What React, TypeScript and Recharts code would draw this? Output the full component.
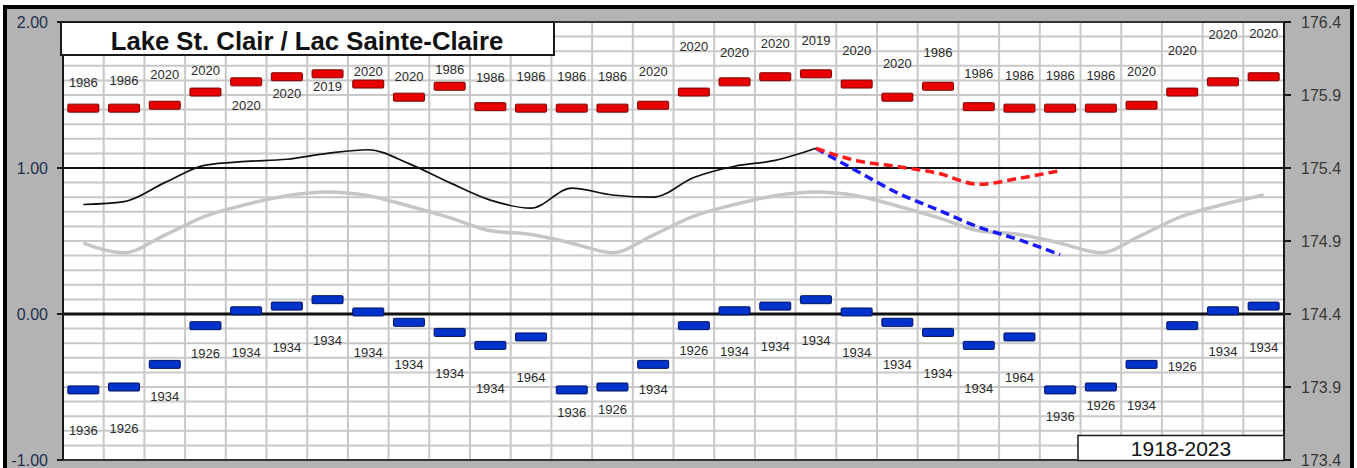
import { CartesianGrid, ComposedChart, Line, ReferenceLine, XAxis, YAxis } from "recharts";

// record monthly highs / lows (m, relative to chart datum 174.4 m)
const recordHigh = [
  1.41, 1.41, 1.43, 1.52, 1.59, 1.625, 1.645, 1.575, 1.485, 1.56, 1.42, 1.41,
  1.41, 1.41, 1.43, 1.52, 1.59, 1.625, 1.645, 1.575, 1.485, 1.56, 1.42, 1.41,
  1.41, 1.41, 1.43, 1.52, 1.59, 1.625,
];
const recordHighYear = [
  1986, 1986, 2020, 2020, 2020, 2020, 2019, 2020, 2020, 1986, 1986, 1986,
  1986, 1986, 2020, 2020, 2020, 2020, 2019, 2020, 2020, 1986, 1986, 1986,
  1986, 1986, 2020, 2020, 2020, 2020,
];
const recordLow = [
  -0.52, -0.5, -0.345, -0.08, 0.022, 0.054, 0.098, 0.014, -0.057, -0.126, -0.215, -0.157,
  -0.52, -0.5, -0.345, -0.08, 0.022, 0.054, 0.098, 0.014, -0.057, -0.126, -0.215, -0.157,
  -0.52, -0.5, -0.345, -0.08, 0.022, 0.054,
];
const recordLowYear = [
  1936, 1926, 1934, 1926, 1934, 1934, 1934, 1934, 1934, 1934, 1934, 1964,
  1936, 1926, 1934, 1926, 1934, 1934, 1934, 1934, 1934, 1934, 1934, 1964,
  1936, 1926, 1934, 1926, 1934, 1934,
];
const recorded = [
  0.75, 0.77, 0.9, 1.02, 1.045, 1.06, 1.1, 1.125, 1.03, 0.9, 0.78, 0.725,
  0.862, 0.815, 0.8, 0.935, 1.012, 1.052, 1.135,
];
const average = [
  0.485, 0.42, 0.54, 0.67, 0.75, 0.81, 0.835, 0.81, 0.74, 0.66, 0.57, 0.545,
  0.485, 0.42, 0.54, 0.67, 0.75, 0.81, 0.835, 0.81, 0.74, 0.66, 0.57, 0.545,
  0.485, 0.42, 0.54, 0.67, 0.75, 0.815,
];
const forecastStart = 18;
const forecastHigh = [1.135, 1.05, 1.01, 0.964, 0.888, 0.93, 0.982];
const forecastLow = [1.135, 0.98, 0.83, 0.713, 0.595, 0.508, 0.406];

const chartDatum = 174.4;
const leftLabels = [-1, 0, 1, 2];
const rightTicks = [173.4, 173.9, 174.4, 174.9, 175.4, 175.9, 176.4];
const gridTicks = [
  -1, -0.9, -0.8, -0.7, -0.6, -0.5, -0.4, -0.3, -0.2, -0.1, 0,
  0.1, 0.2, 0.3, 0.4, 0.5, 0.6, 0.7, 0.8, 0.9, 1,
  1.1, 1.2, 1.3, 1.4, 1.5, 1.6, 1.7, 1.8, 1.9, 2,
];

// label placement (px from marker centre)
const highLabelDy = [
  -26, -28, -31, -22, 24, 17, 13, -13, -21, -17, -29, -32,
  -32, -32, -34, -46, -29, -33, -33, -34, -34, -34, -33, -33,
  -33, -33, -34, -42, -47, -43,
];
const lowLabelDy = [
  41, 41, 32, 28, 42, 41, 41, 40, 42, 41, 43, 41,
  23, 22, 25, 25, 41, 40, 41, 40, 42, 41, 43, 41,
  27, 18, 41, 41, 41, 41,
];

const FONT = "'Liberation Sans', Arial, sans-serif";

const rows = recordHigh.map((high, i) => ({
  slot: i + 0.5,
  high,
  highYear: recordHighYear[i],
  low: recordLow[i],
  lowYear: recordLowYear[i],
  recorded: recorded[i] ?? null,
  average: average[i],
  fHigh: i >= forecastStart ? forecastHigh[i - forecastStart] ?? null : null,
  fLow: i >= forecastStart ? forecastLow[i - forecastStart] ?? null : null,
}));
const slotTicks = rows.map((_, i) => i).concat(rows.length);

function LeftTick({ x, y, payload }: any) {
  const v = payload.value;
  if (!leftLabels.some((l) => Math.abs(l - v) < 1e-6)) return <g />;
  return (
    <g>
      <line x1={x + 9} x2={x + 15} y1={y} y2={y} stroke="#1a1a1a" strokeWidth={2} />
      <text x={x} y={y} dy="0.35em" textAnchor="end" fontSize={16} fontFamily={FONT} fill="#22304d">
        {v.toFixed(2)}
      </text>
    </g>
  );
}

function marker(fill: string, stroke: string, yearKey: "highYear" | "lowYear", dys: number[]) {
  return (props: any) => {
    const { cx, cy, index, payload } = props;
    if (cx == null || cy == null) return <g key={`${yearKey}-${index}`} />;
    return (
      <g key={`${yearKey}-${index}`}>
        <rect x={cx - 15.5} y={cy - 4} width={31} height={8} rx={1} fill={fill} stroke={stroke} strokeWidth={1} />
        <text
          x={cx}
          y={cy + dys[index]}
          dy="0.35em"
          textAnchor="middle"
          fontSize={13}
          fontFamily={FONT}
          fill="#2a2a2a"
        >
          {payload[yearKey]}
        </text>
      </g>
    );
  };
}

export default function App() {
  return (
    <div style={{ position: "absolute", left: 0, top: 0, width: 1357, height: 468, background: "#fff", overflow: "hidden" }}>
      <div
        style={{
          position: "absolute",
          left: 3,
          top: 5,
          width: 1351,
          height: 490,
          boxSizing: "border-box",
          border: "4px solid #000",
          background: "#b3b3b3",
        }}
      />
      <div style={{ position: "absolute", left: 0, top: 0 }}>
        <ComposedChart width={1357} height={468} data={rows} margin={{ top: 22, right: 0, bottom: 8, left: 0 }}>
          <CartesianGrid yAxisId="left" stroke="#c8c8c8" strokeWidth={2} fill="#fff" fillOpacity={1} />
          <XAxis dataKey="slot" type="number" domain={[0, rows.length]} ticks={slotTicks} hide />
          <YAxis
            yAxisId="left"
            type="number"
            domain={[-1, 2]}
            ticks={gridTicks}
            width={63}
            tick={<LeftTick />}
            axisLine={{ stroke: "#1a1a1a", strokeWidth: 2 }}
            tickLine={false}
            tickSize={0}
            tickMargin={15}
            interval={0}
          />
          <YAxis
            yAxisId="right"
            orientation="right"
            type="number"
            domain={[173.4, 176.4]}
            ticks={rightTicks}
            width={73}
            tickFormatter={(v: number) => v.toFixed(1)}
            tick={{ fill: "#383838", fontSize: 16, fontFamily: FONT }}
            axisLine={{ stroke: "#1a1a1a", strokeWidth: 2 }}
            tickLine={{ stroke: "#1a1a1a", strokeWidth: 2 }}
            tickSize={7}
            tickMargin={10}
            interval={0}
          />
          <ReferenceLine yAxisId="left" y={2} stroke="#333" strokeWidth={2} />
          <ReferenceLine yAxisId="left" y={-1} stroke="#333" strokeWidth={2} />
          <ReferenceLine yAxisId="left" y={1} stroke="#111" strokeWidth={2} />
          <ReferenceLine yAxisId="left" y={0} stroke="#111" strokeWidth={3} />
          {/* long-term average, also in metres above sea level on the right axis (invisible) */}
          <Line
            yAxisId="right"
            dataKey={(r: any) => r.average + chartDatum}
            stroke="none"
            dot={false}
            activeDot={false}
            isAnimationActive={false}
          />
          <Line
            yAxisId="left"
            dataKey="average"
            type="monotone"
            stroke="#c6c6c6"
            strokeWidth={3.5}
            dot={false}
            activeDot={false}
            isAnimationActive={false}
          />
          <Line
            yAxisId="left"
            dataKey="recorded"
            type="monotone"
            stroke="#111"
            strokeWidth={1.7}
            dot={false}
            activeDot={false}
            isAnimationActive={false}
          />
          <Line
            yAxisId="left"
            dataKey="fLow"
            type="monotone"
            stroke="#1a1aff"
            strokeWidth={3.5}
            strokeDasharray="9 5"
            dot={false}
            activeDot={false}
            isAnimationActive={false}
          />
          <Line
            yAxisId="left"
            dataKey="fHigh"
            type="monotone"
            stroke="#ff1a1a"
            strokeWidth={3.5}
            strokeDasharray="9 5"
            dot={false}
            activeDot={false}
            isAnimationActive={false}
          />
          <Line
            yAxisId="left"
            dataKey="high"
            stroke="none"
            dot={marker("#e80000", "#7a0000", "highYear", highLabelDy)}
            activeDot={false}
            isAnimationActive={false}
          />
          <Line
            yAxisId="left"
            dataKey="low"
            stroke="none"
            dot={marker("#0033cc", "#001060", "lowYear", lowLabelDy)}
            activeDot={false}
            isAnimationActive={false}
          />
        </ComposedChart>
      </div>
      <svg width={1357} height={468} style={{ position: "absolute", left: 0, top: 0, pointerEvents: "none" }}>
        <rect x={61} y={22} width={493} height={33} fill="#fff" stroke="#1a1a1a" strokeWidth={2} />
        <text x={307} y={50} textAnchor="middle" fontFamily={FONT} fontWeight="bold" fontSize={25.7} fill="#111">
          Lake St. Clair / Lac Sainte-Claire
        </text>
        <rect x={1078} y={435.5} width={206} height={25} fill="#fff" stroke="#1a1a1a" strokeWidth={1.5} />
        <text x={1181} y={456} textAnchor="middle" fontFamily={FONT} fontSize={21} fill="#111">
          1918-2023
        </text>
      </svg>
    </div>
  );
}
